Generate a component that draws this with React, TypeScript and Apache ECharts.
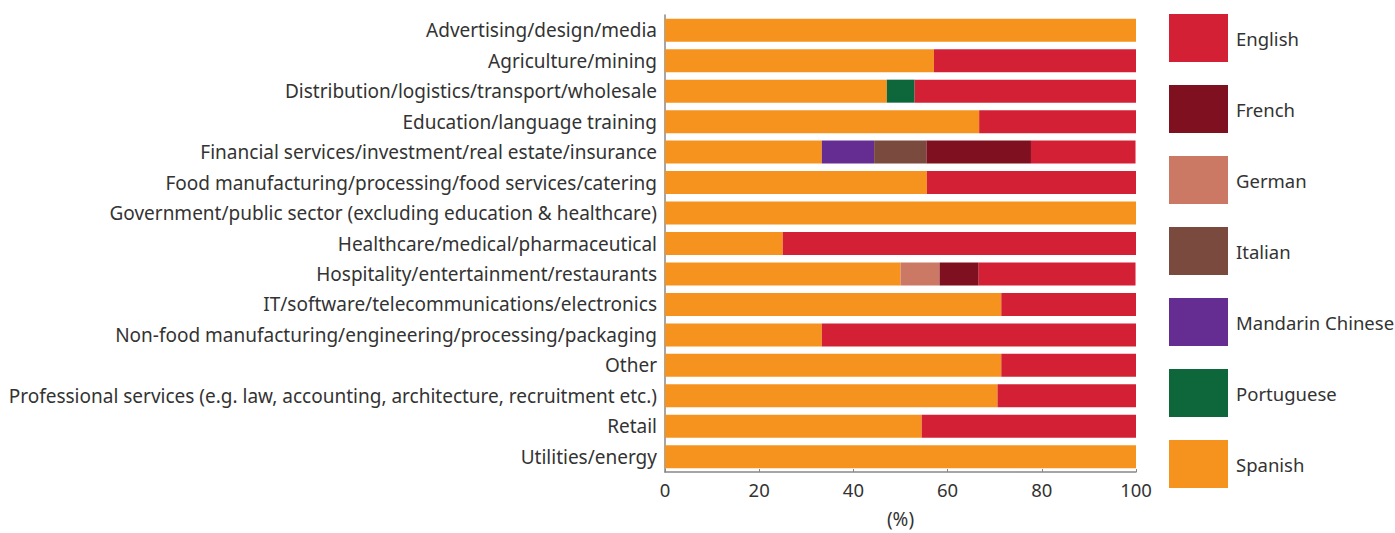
import React, { useEffect, useRef } from "react";
import * as echarts from "echarts";

const categories = [
  "Advertising/design/media",
  "Agriculture/mining",
  "Distribution/logistics/transport/wholesale",
  "Education/language training",
  "Financial services/investment/real estate/insurance",
  "Food manufacturing/processing/food services/catering",
  "Government/public sector (excluding education & healthcare)",
  "Healthcare/medical/pharmaceutical",
  "Hospitality/entertainment/restaurants",
  "IT/software/telecommunications/electronics",
  "Non-food manufacturing/engineering/processing/packaging",
  "Other",
  "Professional services (e.g. law, accounting, architecture, recruitment etc.)",
  "Retail",
  "Utilities/energy",
];

const spanish = [100, 57.1, 47.1, 66.7, 33.3, 55.6, 100, 25.0, 50.0, 71.4, 33.3, 71.4, 70.6, 54.5, 100];
const portuguese = [0, 0, 5.9, 0, 0, 0, 0, 0, 0, 0, 0, 0, 0, 0, 0];
const mandarin = [0, 0, 0, 0, 11.1, 0, 0, 0, 0, 0, 0, 0, 0, 0, 0];
const italian = [0, 0, 0, 0, 11.1, 0, 0, 0, 0, 0, 0, 0, 0, 0, 0];
const german = [0, 0, 0, 0, 0, 0, 0, 0, 8.3, 0, 0, 0, 0, 0, 0];
const french = [0, 0, 0, 0, 22.2, 0, 0, 0, 8.3, 0, 0, 0, 0, 0, 0];
const english = [0, 42.9, 47.1, 33.3, 22.2, 44.4, 0, 75.0, 33.3, 28.6, 66.7, 28.6, 29.4, 45.5, 0];

const xTicks = [0, 20, 40, 60, 80, 100];

const seriesDefs = [
  { name: "Spanish", data: spanish, color: "#F6931E" },
  { name: "Portuguese", data: portuguese, color: "#0E673A" },
  { name: "Mandarin Chinese", data: mandarin, color: "#652D91" },
  { name: "Italian", data: italian, color: "#7A4A3E" },
  { name: "German", data: german, color: "#CB7864" },
  { name: "French", data: french, color: "#7E101F" },
  { name: "English", data: english, color: "#D32035" },
];

const legendOrder = ["English", "French", "German", "Italian", "Mandarin Chinese", "Portuguese", "Spanish"];

export default function App() {
  const ref = useRef<HTMLDivElement>(null);
  useEffect(() => {
    if (!ref.current) return;
    const chart = echarts.init(ref.current, null, { renderer: "svg" });
    const font = "'Noto Sans', sans-serif";
    chart.setOption({
      animation: false,
      textStyle: { fontFamily: font },
      grid: { left: 665, right: 259, top: 15, bottom: 47, containLabel: false },
      legend: {
        orient: "vertical",
        left: 1169,
        top: 14,
        padding: 0,
        data: legendOrder,
        itemWidth: 59,
        itemHeight: 48,
        itemGap: 23,
        icon: "rect",
        selectedMode: false,
        textStyle: { fontSize: 18.5, color: "#333", fontFamily: font, padding: [0, 0, 0, 3] },
      },
      xAxis: {
        type: "value",
        min: xTicks[0],
        max: xTicks[xTicks.length - 1],
        interval: 20,
        name: "(%)",
        nameLocation: "middle",
        nameGap: 37,
        nameTextStyle: { fontSize: 19, color: "#333", fontFamily: font },
        axisLine: { show: true, lineStyle: { color: "#888", width: 1.5 } },
        axisTick: { show: true, inside: true, length: 3, lineStyle: { color: "#888" } },
        axisLabel: { fontSize: 18.5, color: "#333", margin: 8, fontFamily: font },
        splitLine: { show: false },
      },
      yAxis: {
        type: "category",
        data: categories,
        inverse: true,
        axisLine: { show: true, lineStyle: { color: "#888", width: 1.5 } },
        axisTick: { show: false },
        axisLabel: { fontSize: 19, color: "#333", margin: 8, fontFamily: font },
      },
      series: seriesDefs.map((s) => ({
        name: s.name,
        type: "bar",
        stack: "total",
        data: s.data,
        barWidth: 23,
        itemStyle: { color: s.color },
        emphasis: { disabled: true },
      })),
    });
    return () => chart.dispose();
  }, []);
  return (
    <div
      ref={ref}
      style={{ position: "absolute", left: 0, top: 0, width: 1395, height: 533 }}
    />
  );
}
